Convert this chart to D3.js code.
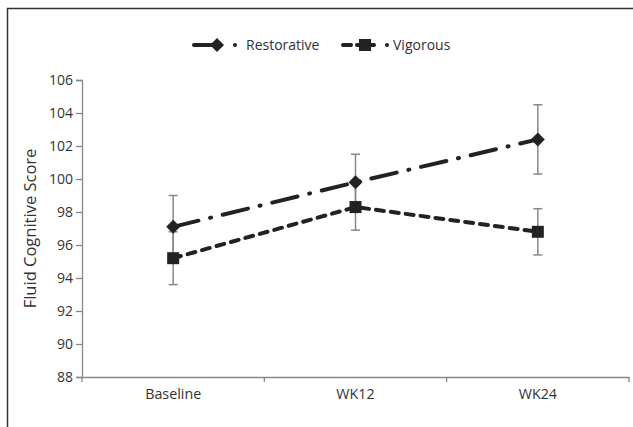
<!DOCTYPE html>
<html>
<head>
<meta charset="utf-8">
<script src="https://cdn.jsdelivr.net/npm/d3@7"></script>
<style>
  body { margin: 0; background: #fff; }
  svg text { font-family: "Open Sans", sans-serif; fill: #333; }
</style>
</head>
<body>
<svg id="chart" width="633" height="427"></svg>
<script>

    var categories = ['Baseline', 'WK12', 'WK24'];

    var restorative = [97.1, 99.8, 102.4],
        restorative_err = [1.9, 1.7, 2.1];

    var vigorous = [95.2, 98.3, 96.8],
        vigorous_err = [1.6, 1.4, 1.4];

    var y_ticks = [88, 90, 92, 94, 96, 98, 100, 102, 104, 106];

    var series = [
        { label: 'Restorative', values: restorative, err: restorative_err, marker: 'diamond', dash: '26 12 1 12' },
        { label: 'Vigorous', values: vigorous, err: vigorous_err, marker: 'square', dash: '8 7' }
    ];


    var svg = d3.select('#chart');

    // outer frame (only top and left edges are visible)
    svg.append('rect')
        .attr('x', 7.5).attr('y', 8.5)
        .attr('width', 700).attr('height', 500)
        .attr('fill', 'none')
        .attr('stroke', '#333')
        .attr('stroke-width', 1.5);

    var x = d3.scaleBand()
        .domain(categories)
        .range([82, 629]);

    var y = d3.scaleLinear()
        .domain([88, 106])
        .range([377, 80]);

    // y axis
    var y_axis = svg.append('g')
        .attr('transform', 'translate(82,0)')
        .call(d3.axisLeft(y).tickValues(y_ticks).tickSize(6).tickPadding(3));

    y_axis.attr('font-family', null).attr('font-size', 14);
    y_axis.select('.domain').attr('stroke', '#888').attr('stroke-width', 1.3);
    y_axis.selectAll('.tick line').attr('stroke', '#888').attr('stroke-width', 1.3);
    y_axis.selectAll('.tick text').attr('fill', '#333');

    // x axis
    var x_axis = svg.append('g')
        .attr('transform', 'translate(0,377)')
        .call(d3.axisBottom(x).tickSize(0).tickPadding(12));

    x_axis.attr('font-family', null).attr('font-size', 14.3);
    x_axis.select('.domain').attr('stroke', '#888').attr('stroke-width', 1.3);
    x_axis.selectAll('.tick text').attr('fill', '#333');

    // category boundary ticks
    x_axis.selectAll('.band-tick')
        .data(categories.map(function (c) { return x(c); }).concat([x.range()[1]]))
        .enter()
        .append('line')
        .attr('class', 'band-tick')
        .attr('x1', function (d) { return d; })
        .attr('x2', function (d) { return d; })
        .attr('y1', 0).attr('y2', 5)
        .attr('stroke', '#888')
        .attr('stroke-width', 1.3);

    svg.append('text')
        .attr('transform', 'translate(36,' + ((y(88) + y(106)) / 2) + ') rotate(-90)')
        .attr('text-anchor', 'middle')
        .attr('font-size', 16.5)
        .text('Fluid Cognitive Score');


    function cx (i) { return x(categories[i]) + x.bandwidth() / 2; }

    function marker (g, kind, px, py) {
        if (kind === 'diamond') {
            g.append('path')
                .attr('d', 'M' + px + ',' + (py - 7) + 'L' + (px + 7) + ',' + py +
                    'L' + px + ',' + (py + 7) + 'L' + (px - 7) + ',' + py + 'Z')
                .attr('fill', '#222');
        } else {
            g.append('rect')
                .attr('x', px - 6).attr('y', py - 6)
                .attr('width', 12).attr('height', 12)
                .attr('fill', '#222');
        }
    }

    // error bars
    var err_g = svg.append('g');
    series.forEach(function (s) {
        s.values.forEach(function (v, i) {
            var px = cx(i),
                r = [v - s.err[i], v + s.err[i]];
            err_g.append('line')
                .attr('x1', px).attr('x2', px)
                .attr('y1', y(r[0])).attr('y2', y(r[1]))
                .attr('stroke', '#888').attr('stroke-width', 1.5);
            r.forEach(function (e) {
                err_g.append('line')
                    .attr('x1', px - 4.5).attr('x2', px + 4.5)
                    .attr('y1', y(e)).attr('y2', y(e))
                    .attr('stroke', '#888').attr('stroke-width', 1.5);
            });
        });
    });

    var line = d3.line()
        .x(function (d, i) { return cx(i); })
        .y(function (d) { return y(d); });

    series.forEach(function (s) {
        var g = svg.append('g');
        g.append('path')
            .attr('d', line(s.values))
            .attr('fill', 'none')
            .attr('stroke', '#222')
            .attr('stroke-width', 4)
            .attr('stroke-linecap', 'round')
            .attr('stroke-dasharray', s.dash);
        s.values.forEach(function (v, i) {
            marker(g, s.marker, cx(i), y(v));
        });
    });

    // legend
    var legend = svg.append('g').attr('transform', 'translate(0,45)');

    var lr = legend.append('g');
    lr.append('line').attr('x1', 194).attr('x2', 216).attr('y1', 0).attr('y2', 0)
        .attr('stroke', '#222').attr('stroke-width', 4).attr('stroke-linecap', 'round');
    marker(lr, 'diamond', 217, 0);
    lr.append('circle').attr('cx', 235).attr('cy', 0).attr('r', 2).attr('fill', '#222');
    lr.append('text').attr('x', 246).attr('y', 5).attr('font-size', 14).text(series[0].label);

    var lv = legend.append('g');
    lv.append('line').attr('x1', 343).attr('x2', 351).attr('y1', 0).attr('y2', 0)
        .attr('stroke', '#222').attr('stroke-width', 4).attr('stroke-linecap', 'round');
    lv.append('line').attr('x1', 357).attr('x2', 374).attr('y1', 0).attr('y2', 0)
        .attr('stroke', '#222').attr('stroke-width', 4).attr('stroke-linecap', 'round');
    marker(lv, 'square', 365, 0);
    lv.append('circle').attr('cx', 387).attr('cy', 0).attr('r', 2).attr('fill', '#222');
    lv.append('text').attr('x', 393).attr('y', 5).attr('font-size', 14).text(series[1].label);

</script>
</body>
</html>
